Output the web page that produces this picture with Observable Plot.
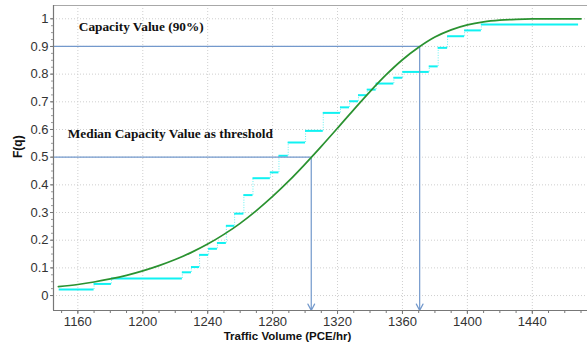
<!DOCTYPE html>
<html>
<head>
<meta charset="utf-8">
<script src="https://cdn.jsdelivr.net/npm/d3@7"></script>
<script src="https://cdn.jsdelivr.net/npm/@observablehq/plot@0.6"></script>
<style>
  html, body { margin: 0; padding: 0; background: #fff; }
  svg { display: block; }
</style>
</head>
<body>
<div id="chart"></div>
<script>
// Axis extents and ticks
const xDomain = [1145, 1474];
const yDomain = [-0.054, 1.048];
const xTicks = [1160, 1200, 1240, 1280, 1320, 1360, 1400, 1440];
const yTicks = [0, 0.1, 0.2, 0.3, 0.4, 0.5, 0.6, 0.7, 0.8, 0.9, 1];
const xMinorTicks = d3.range(1150, 1471, 10);
const yMinorTicks = d3.range(0, 1.0001, 0.025);

// Empirical CDF steps: break points (traffic volume) and step levels
const stepBreaks = [1148.5, 1170, 1180.7, 1224.4, 1230, 1235, 1240.6, 1246, 1251.5, 1256.6,
  1262.3, 1267.9, 1278.6, 1283.9, 1289.6, 1300.3, 1311.2, 1321.8, 1327.4, 1332.9,
  1338.3, 1343.8, 1354.7, 1360.2, 1376.5, 1382, 1387.8, 1398.3, 1408.6, 1468.5];
const stepF = [0.022, 0.042, 0.062, 0.084, 0.103, 0.147, 0.169, 0.190, 0.252, 0.296,
  0.363, 0.424, 0.445, 0.505, 0.553, 0.595, 0.660, 0.680, 0.702, 0.724,
  0.744, 0.766, 0.787, 0.808, 0.828, 0.895, 0.937, 0.958, 0.979];

// Fitted CDF curve
const curveX = [1148, 1160, 1170, 1180, 1190, 1200, 1210, 1220, 1230, 1240, 1250, 1260, 1270,
  1280, 1290, 1300, 1310, 1320, 1330, 1340, 1350, 1360, 1370, 1380, 1390, 1400, 1410,
  1420, 1430, 1440, 1455, 1470];
const curveF = [0.032, 0.040, 0.049, 0.060, 0.073, 0.089, 0.108, 0.130, 0.156, 0.186, 0.221,
  0.261, 0.307, 0.358, 0.414, 0.475, 0.539, 0.605, 0.672, 0.737, 0.798, 0.852, 0.897,
  0.934, 0.960, 0.978, 0.989, 0.995, 0.998, 0.9995, 1.0, 1.0];

// Threshold reference values
const thresholdF = [0.5, 0.9];
const thresholdX = [1303.8, 1370.6];

// Annotations
const annoText = ["Capacity Value (90%)", "Median Capacity Value as threshold"];
const annoX = [1160.6, 1153.8];
const annoY = [0.972, 0.583];

const steps = stepF.map((f, i) => ({x1: stepBreaks[i], x2: stepBreaks[i + 1], f}));
const risers = steps.slice(1).map((s, i) => ({x: s.x1, y1: steps[i].f, y2: s.f}));
const curve = curveX.map((x, i) => ({x, f: curveF[i]}));
const thresholds = thresholdF.map((f, i) => ({f, x: thresholdX[i]}));

const blue = "#7399cc";

const chart = Plot.plot({
  width: 587,
  height: 343,
  marginLeft: 53,
  marginRight: 0,
  marginTop: 5,
  marginBottom: 33,
  style: {fontFamily: "Liberation Sans, Arial, sans-serif", background: "#fff"},
  x: {domain: xDomain},
  y: {domain: yDomain},
  marks: [
    Plot.gridX(xTicks, {stroke: "#cfcfcf", strokeOpacity: 1, strokeDasharray: "1,2"}),
    Plot.gridY(yTicks, {stroke: "#cfcfcf", strokeOpacity: 1, strokeDasharray: "1,2"}),
    // ECDF risers (dotted) and treads
    Plot.ruleX(risers, {x: "x", y1: "y1", y2: "y2", stroke: "#66f2f2", strokeWidth: 1, strokeDasharray: "1,1.5"}),
    Plot.ruleY(steps, {y: "f", x1: "x1", x2: "x2", stroke: "#10f2f2", strokeWidth: 2}),
    // threshold lines
    Plot.ruleY(thresholds, {y: "f", x1: () => xDomain[0], x2: "x", stroke: blue, strokeWidth: 1.2}),
    Plot.arrow(thresholds, {x1: "x", x2: "x", y1: "f", y2: () => yDomain[0], stroke: blue, strokeWidth: 1.2, headLength: 9, headAngle: 55}),
    // fitted curve
    Plot.line(curve, {x: "x", y: "f", stroke: "#2a9230", strokeWidth: 1.7, curve: "monotone-x"}),
    // frame lines
    Plot.ruleY([yDomain[1]], {stroke: "#a8a8a8", strokeWidth: 1.2}),
    Plot.ruleX([xDomain[0]], {stroke: "#777", strokeWidth: 1.2}),
    Plot.ruleY([yDomain[0]], {stroke: "#777", strokeWidth: 1.2}),
    // minor ticks
    Plot.axisX(xMinorTicks, {tickSize: 3, text: null, stroke: "#777"}),
    Plot.axisY(yMinorTicks, {tickSize: 2, text: null, stroke: "#999"}),
    // major ticks
    Plot.axisX(xTicks, {tickSize: 4, tickPadding: 2, fontSize: 13, fill: "#333", stroke: "#777", label: null,
      tickFormat: d => String(d)}),
    Plot.axisY(yTicks, {tickSize: 3, tickPadding: 2, fontSize: 13, fill: "#333", stroke: "#777", label: null,
      tickFormat: d => String(+d.toFixed(1))}),
    // axis titles
    Plot.text(["Traffic Volume (PCE/hr)"], {frameAnchor: "bottom", dx: -33, dy: 26, lineAnchor: "middle",
      fontWeight: "bold", fontSize: 11.5, fill: "#111"}),
    Plot.text(["F(q)"], {frameAnchor: "left", dx: -35, rotate: -90, lineAnchor: "middle",
      fontWeight: "bold", fontSize: 12, fill: "#111"}),
    // annotations
    Plot.text(annoText, {x: annoX, y: annoY, text: annoText, textAnchor: "start", lineAnchor: "middle",
      fontFamily: "Liberation Serif, Times New Roman, serif", fontWeight: "bold", fontSize: 13.3, fill: "#111"})
  ]
});
document.getElementById("chart").append(chart);
</script>
</body>
</html>
